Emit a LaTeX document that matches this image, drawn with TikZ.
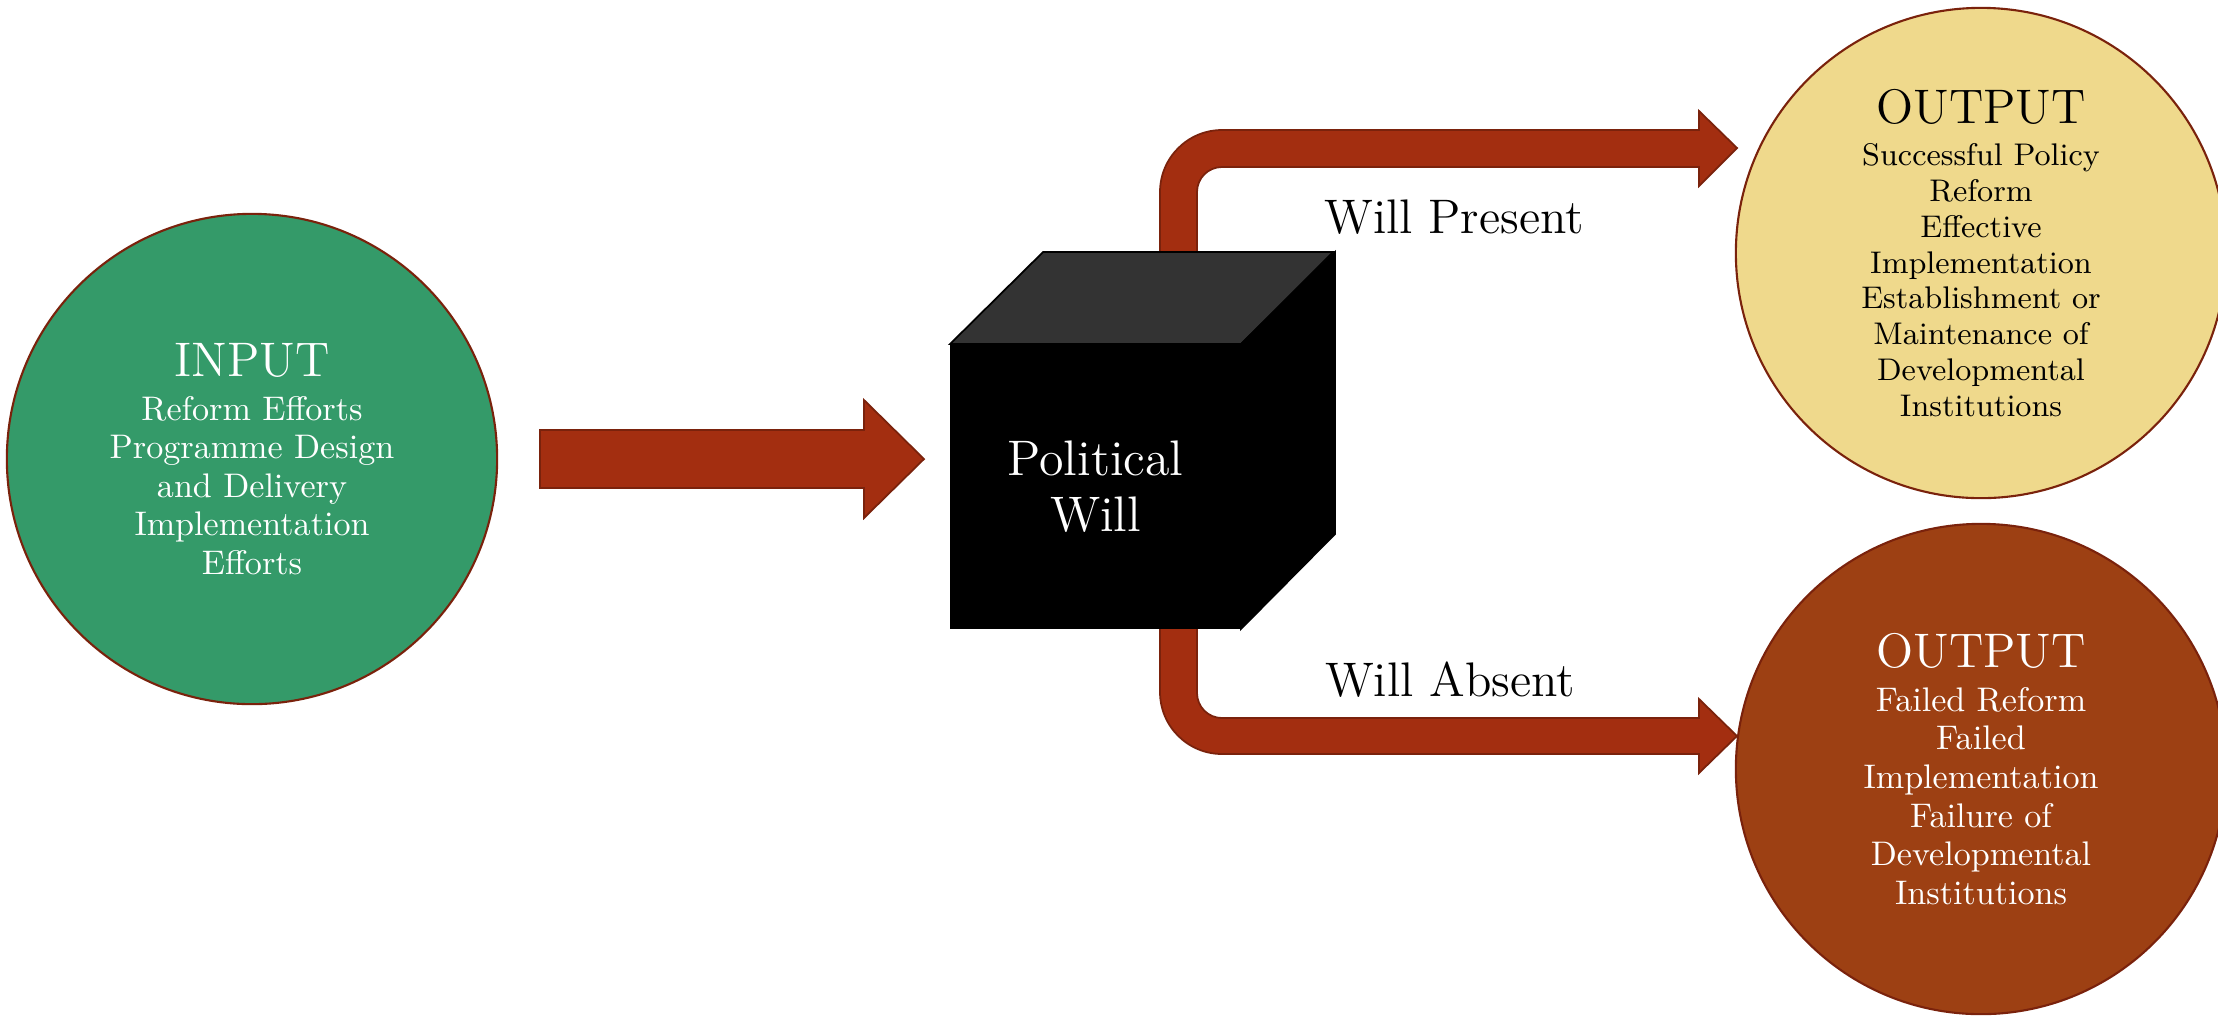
\documentclass[tikz,border=0pt]{standalone}
\definecolor{inputgreen}{HTML}{349A69}
\definecolor{presentsand}{HTML}{EFD98C}
\definecolor{absentrust}{HTML}{9D4013}
\definecolor{arrowred}{HTML}{A32E10}
\definecolor{rimred}{HTML}{7A220C}
\definecolor{lidgray}{HTML}{333333}
\newcommand{\headfont}{\fontsize{13.8}{16}\selectfont}

\begin{document}
\begin{tikzpicture}[x=0.01cm, y=-0.01cm,
	bubble/.style={circle, draw=rimred, line width=0.6pt, minimum size=4.9cm, inner sep=0pt, align=center},
	flow/.style={fill=arrowred, draw=rimred, line width=0.5pt},
	tag/.style={anchor=base, font=\fontsize{13.8}{16}\selectfont}]
	
	\useasboundingbox (0,0) rectangle (2218,1017);
	
	% the three circles
	\node[bubble, fill=inputgreen, text=white, font=\fontsize{9.7}{10.95}\selectfont] (input) at (252,459)
		{{\headfont INPUT}\\[1.6pt] Reform Efforts\\ Programme Design\\ and Delivery\\ Implementation\\ Efforts};
	\node[bubble, fill=presentsand, text=black, font=\fontsize{8.9}{10.2}\selectfont] (success) at (1981,253)
		{{\headfont OUTPUT}\\[1.8pt] Successful Policy\\ Reform\\ Effective\\ Implementation\\ Establishment or\\ Maintenance of\\ Developmental\\ Institutions};
	\node[bubble, fill=absentrust, text=white, font=\fontsize{9.7}{11}\selectfont] (failure) at (1981,769)
		{{\headfont OUTPUT}\\[1.4pt] Failed Reform\\ Failed\\ Implementation\\ Failure of\\ Developmental\\ Institutions};
	
	% input arrow
	\fill[flow] (540,430) -- (864,430) -- (864,400) -- (924,459) -- (864,518) -- (864,488) -- (540,488) -- cycle;
	
	% bent arrows, behind the box
	\fill[flow] (1160,320) -- (1160,192) arc[start angle=180, end angle=270, radius=62] -- (1699,130) -- (1699,111)
		-- (1737,148) -- (1699,186) -- (1699,167) -- (1222,167) arc[start angle=270, end angle=180, radius=25] -- (1197,320) -- cycle;
	\fill[flow] (1160,600) -- (1160,692) arc[start angle=180, end angle=90, radius=62] -- (1699,754) -- (1699,773)
		-- (1737,736) -- (1699,699) -- (1699,718) -- (1222,718) arc[start angle=90, end angle=180, radius=25] -- (1197,600) -- cycle;
	
	% the box
	\node[fill=black, draw=black, line width=0.5pt, minimum width=2.89cm, minimum height=2.83cm, inner sep=0pt,
		text=white, align=center, font=\fontsize{14.2}{16}\selectfont] (will) at (1095.5,486.5) {Political\\ Will};
	\filldraw[fill=lidgray, draw=black, line width=0.5pt] (will.north west) -- ++(93,-92) -- ++(290,0) -- (will.north east) -- cycle;
	\filldraw[fill=black, draw=black, line width=0.5pt] (will.north east) -- ++(94,-92) -- ++(0,282) -- (will.south east) -- cycle;
	
	\node[tag] (present) at (1454,233) {Will Present};
	\node[tag] (absent) at (1450,696) {Will Absent};
	
\end{tikzpicture}
\end{document}
